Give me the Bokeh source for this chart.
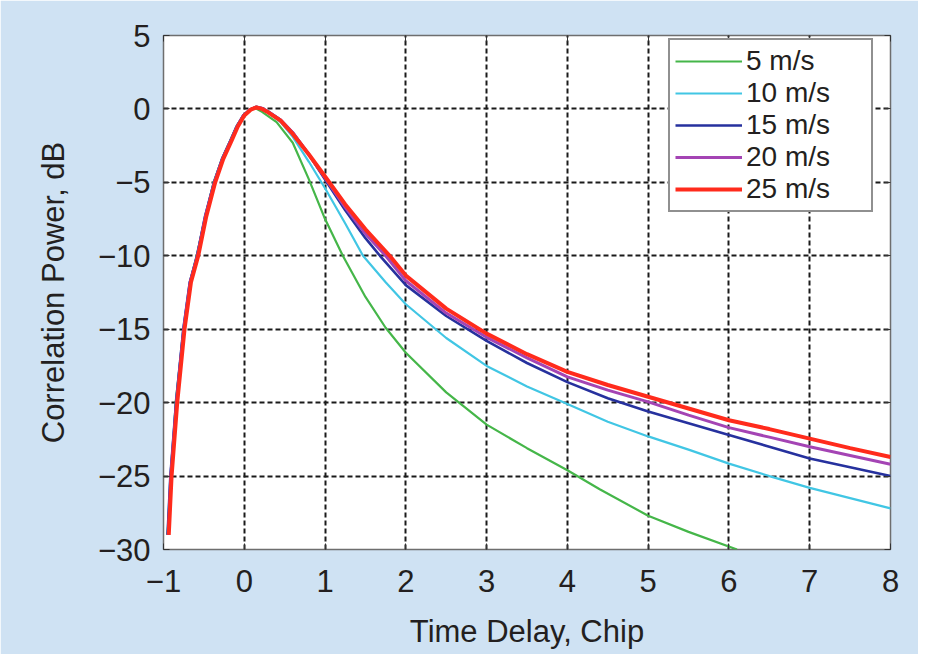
from bokeh.plotting import figure
from bokeh.models import Legend, LegendItem, FixedTicker, CustomJSTickFormatter, Range1d, LinearAxis
from bokeh.embed import file_html
from bokeh.resources import INLINE

# ---- data ----
labels = ["5 m/s", "10 m/s", "15 m/s", "20 m/s", "25 m/s"]
colors = ["#45b649", "#41c6e4", "#26319e", "#a444b4", "#ff2b1c"]
widths = [2.2, 2.2, 2.6, 3.0, 4.0]

x_5 = [-0.95, -0.92, -0.88, -0.85, -0.76, -0.67, -0.59, -0.48, -0.38, -0.27, -0.17,
       -0.09, 0.0, 0.07, 0.14, 0.22, 0.40, 0.60, 0.80, 1.00, 1.22, 1.50, 1.75, 2.00,
       2.50, 3.00, 3.50, 4.00, 4.40, 5.00, 5.50, 6.10]
y_5 = [-29.0, -26.5, -23.0, -20.0, -15.5, -11.8, -10.0, -7.3, -5.0, -3.3, -2.1,
       -1.1, -0.4, -0.05, 0.05, -0.2, -0.9, -2.3, -4.8, -7.5, -10.0, -12.8, -14.9, -16.6,
       -19.3, -21.5, -23.1, -24.6, -25.9, -27.7, -28.8, -30.0]

x_10 = [-0.95, -0.915, -0.845, -0.755, -0.675, -0.585, -0.485, -0.375, -0.275, -0.175,
        -0.095, -0.015, 0.07, 0.15, 0.22, 0.30, 0.45, 0.60, 0.80, 1.00, 1.25, 1.47, 1.75,
        2.00, 2.50, 3.00, 3.50, 4.00, 4.50, 5.00, 5.50, 6.00, 6.50, 7.00, 7.50, 8.00]
y_10 = [-29.0, -25.0, -20.0, -15.0, -11.8, -10.0, -7.3, -5.0, -3.4, -2.2,
        -1.2, -0.45, -0.05, 0.1, 0.0, -0.25, -0.9, -1.9, -3.6, -5.4, -7.8, -10.0, -11.8,
        -13.3, -15.6, -17.5, -18.9, -20.1, -21.3, -22.3, -23.2, -24.15, -25.0, -25.8, -26.5, -27.2]

x_15 = [-0.95, -0.915, -0.845, -0.755, -0.675, -0.585, -0.485, -0.375, -0.275, -0.175,
        -0.095, -0.015, 0.07, 0.15, 0.22, 0.30, 0.45, 0.60, 0.80, 1.00, 1.25, 1.50, 1.68,
        2.00, 2.50, 3.00, 3.50, 4.00, 4.50, 5.00, 5.50, 6.00, 6.50, 7.00, 7.50, 8.00]
y_15 = [-29.0, -25.0, -20.0, -15.0, -11.8, -10.0, -7.3, -5.0, -3.4, -2.2,
        -1.2, -0.45, -0.05, 0.15, 0.05, -0.2, -0.75, -1.6, -3.1, -4.8, -6.9, -8.8, -10.0,
        -12.0, -14.1, -15.8, -17.3, -18.6, -19.7, -20.6, -21.4, -22.2, -23.0, -23.8, -24.4, -25.0]

x_20 = [-0.94, -0.91, -0.84, -0.75, -0.67, -0.58, -0.48, -0.37, -0.27, -0.17,
        -0.09, -0.01, 0.07, 0.15, 0.22, 0.30, 0.45, 0.60, 0.80, 1.00, 1.25, 1.50, 1.75,
        2.00, 2.50, 3.00, 3.50, 4.00, 4.50, 5.00, 5.50, 6.00, 6.50, 7.00, 7.50, 8.00]
y_20 = [-29.0, -25.0, -20.0, -15.0, -11.8, -10.0, -7.3, -5.0, -3.4, -2.2,
        -1.2, -0.45, -0.05, 0.12, 0.05, -0.2, -0.75, -1.6, -3.1, -4.7, -6.7, -8.5, -10.0,
        -11.7, -13.9, -15.55, -16.95, -18.25, -19.15, -19.95, -20.85, -21.7, -22.35, -23.0, -23.6, -24.2]

x_25 = [-0.935, -0.90, -0.83, -0.74, -0.66, -0.57, -0.47, -0.36, -0.26, -0.16,
        -0.08, 0.0, 0.08, 0.15, 0.22, 0.30, 0.45, 0.60, 0.80, 1.00, 1.25, 1.50, 1.80,
        2.00, 2.50, 3.00, 3.50, 4.00, 4.50, 5.00, 5.50, 6.00, 6.50, 7.00, 7.50, 8.00]
y_25 = [-29.0, -25.0, -20.0, -15.0, -11.8, -10.0, -7.3, -5.0, -3.4, -2.2,
        -1.2, -0.45, -0.05, 0.1, 0.0, -0.25, -0.8, -1.7, -3.1, -4.6, -6.5, -8.2, -10.0,
        -11.35, -13.6, -15.3, -16.7, -17.9, -18.8, -19.6, -20.4, -21.2, -21.8, -22.45, -23.1, -23.7]

xs = [x_5, x_10, x_15, x_20, x_25]
ys = [y_5, y_10, y_15, y_20, y_25]

x_ticks = [-1, 0, 1, 2, 3, 4, 5, 6, 7, 8]
y_ticks = [-30, -25, -20, -15, -10, -5, 0, 5]

FONT = "Liberation Sans"
TXT = "#231f20"
BG = "#cfe2f3"

p = figure(width=918, height=654, output_backend="svg", toolbar_location=None,
           x_range=Range1d(-1, 8), y_range=Range1d(-30, 5),
           min_border_left=163, min_border_right=28, min_border_top=35, min_border_bottom=105)
p.background_fill_color = "white"
p.border_fill_color = BG
p.outline_line_color = "#6e6e6e"
p.outline_line_width = 1.5

fmt = CustomJSTickFormatter(code="return tick < 0 ? '\u2212' + Math.abs(tick) : tick.toString();")
blank = CustomJSTickFormatter(code="return '';")

xax = p.xaxis[0]
yax = p.yaxis[0]
for ax, ticks in ((xax, x_ticks), (yax, y_ticks)):
    ax.ticker = FixedTicker(ticks=ticks)
    ax.formatter = fmt
    ax.axis_line_color = None
    ax.major_tick_in = 6
    ax.major_tick_out = 0
    ax.major_tick_line_color = "#333333"
    ax.minor_tick_line_color = None
    ax.major_label_text_font = FONT
    ax.major_label_text_font_size = "31px"
    ax.major_label_text_color = TXT
    ax.axis_label_text_font = FONT
    ax.axis_label_text_font_size = "31px"
    ax.axis_label_text_font_style = "normal"
    ax.axis_label_text_color = TXT

xax.axis_label = "Time Delay, Chip"
yax.axis_label = "Correlation Power, dB"
xax.major_label_standoff = 20
yax.major_label_standoff = 13
xax.axis_label_standoff = 19
yax.axis_label_standoff = 24

# mirrored tick marks on the top and right edges of the frame
top_ax = LinearAxis(ticker=FixedTicker(ticks=x_ticks), formatter=blank)
right_ax = LinearAxis(ticker=FixedTicker(ticks=y_ticks), formatter=blank)
for ax in (top_ax, right_ax):
    ax.axis_line_color = None
    ax.major_tick_in = 6
    ax.major_tick_out = 0
    ax.major_tick_line_color = "#333333"
    ax.minor_tick_line_color = None
    ax.major_label_standoff = 0
    ax.major_label_text_font_size = "1px"
p.add_layout(top_ax, "above")
p.add_layout(right_ax, "right")

for g in (p.xgrid[0], p.ygrid[0]):
    g.grid_line_color = "#1a1a1a"
    g.grid_line_width = 2
    g.grid_line_dash = "5 3"

items = []
for x, y, c, w, lab in zip(xs, ys, colors, widths, labels):
    r = p.line(x, y, line_color=c, line_width=w)
    items.append(LegendItem(label=lab, renderers=[r]))

legend = Legend(items=items, location=(505, 337))
legend.label_text_font = FONT
legend.label_text_font_size = "28px"
legend.label_text_color = TXT
legend.glyph_width = 67
legend.glyph_height = 26
legend.label_height = 26
legend.label_width = 120
legend.label_standoff = 4
legend.spacing = -3
legend.padding = 5
legend.margin = 0
legend.border_line_color = "#222222"
legend.border_line_width = 2
legend.background_fill_color = "white"
legend.background_fill_alpha = 1
p.add_layout(legend)

open("out.html", "w").write(file_html(p, INLINE))
